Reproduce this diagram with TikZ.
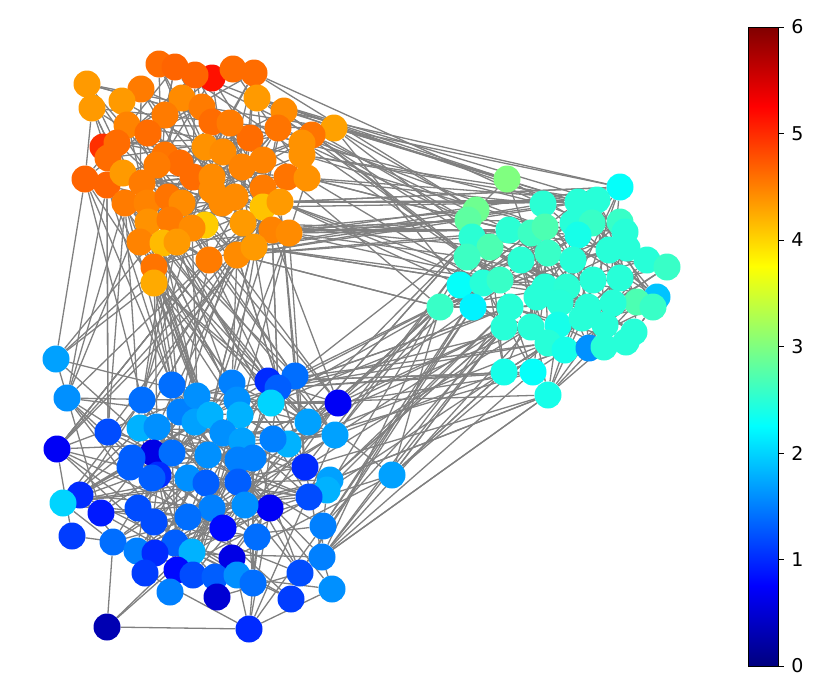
\documentclass[tikz,border=0pt]{standalone}
\usepackage{fontspec}
\setmainfont{DejaVu Sans}
\pgfdeclarelayer{bg}
\pgfsetlayers{bg,main}
\tikzset{
  dot/.style={circle,inner sep=0pt,minimum size=27pt,draw=none},
  link/.style={draw=black!50,line width=1.3pt},
  cbframe/.style={draw=black,line width=1pt},
  cbtick/.style={draw=black,line width=0.9pt},
  cblabel/.style={anchor=west,inner sep=0pt,font=\fontsize{19}{19}\selectfont}
}
\newcommand\jetcolor[2]{%
  \pgfmathsetmacro\cR{max(0,min(1,1.5-abs(2*(#2)/3-3)))}%
  \pgfmathsetmacro\cG{max(0,min(1,1.5-abs(2*(#2)/3-2)))}%
  \pgfmathsetmacro\cB{max(0,min(1,1.5-abs(2*(#2)/3-1)))}%
  \definecolor{#1}{rgb}{\cR,\cG,\cB}}
\begin{document}
\begin{tikzpicture}[x=1pt,y=-1pt]
\useasboundingbox (0,0) rectangle (830,699);
% orange cluster
\foreach \x/\y/\v [count=\n] in {87/84/4.4,92/108/4.4,159/64/5.0,175/67/5.1,212/78/6.2,195/75/5.1,233/69/5.0,254/73/5.0,141/89/4.8,122/101/4.4,257/98/4.4,182/98/4.6,202/107/4.8,165/115/4.8,127/125/4.7,284/111/4.6,334/128/4.3,312/135/4.9,278/128/4.9,250/138/5.0,212/122/5.0,230/123/4.8,148/133/5.0,103/147/5.8,117/143/5.0,302/143/4.5,205/147/4.5,223/152/4.6,165/155/4.9,180/163/5.0,108/158/5.0,302/155/4.5,85/179/5.1,107/185/5.1,123/173/4.4,142/183/4.8,157/165/4.8,193/177/5.0,212/177/4.6,242/167/4.7,263/160/4.7,287/177/4.9,307/178/4.5,263/188/4.8,125/203/4.8,147/203/4.7,168/197/4.9,182/203/4.6,212/190/4.6,222/203/4.6,235/197/4.6,263/207/4.1,280/202/4.4,148/222/4.5,170/220/4.8,205/225/4.05,243/223/4.4,192/228/4.6,272/230/4.7,289/233/4.6,140/242/4.7,163/243/4.15,177/242/4.4,209/260/4.8,237/255/4.6,254/247/4.4,154/267/4.9,154/283/4.25}{
  \pgfmathsetmacro\vv{\v>4.3 ? 4.3+(\v-4.3)*0.45 : \v}
  \jetcolor{nc}{\vv}
  \node[dot,fill=nc] (o\n) at (\x,\y) {};
}
% cyan cluster
\foreach \x/\y/\v [count=\n] in {507/179/3.0,620/187/2.1,476/210/2.9,468/220/2.8,543/204/2.5,578/202/2.3,597/200/2.3,573/223/2.3,592/223/2.4,620/222/2.4,625/232/2.3,472/237/2.5,490/247/2.7,509/230/2.5,531/233/2.6,545/227/2.7,578/235/2.2,467/257/2.6,521/260/2.5,548/253/2.4,609/250/2.3,647/260/2.3,667/267/2.4,627/248/2.3,573/260/2.3,460/285/2.1,483/283/2.3,500/280/2.4,545/287/2.3,567/287/2.5,593/280/2.3,620/278/2.3,657/297/1.9,637/302/2.7,653/307/2.4,440/307/2.4,473/307/2.0,510/307/2.3,537/297/2.3,560/303/2.3,588/307/2.3,613/303/2.3,504/327/2.3,531/327/2.3,558/325/2.2,582/318/2.3,605/325/2.3,634/332/2.3,626/342/2.3,548/343/2.3,565/350/2.2,589/348/1.6,604/347/2.3,504/372/2.2,533/372/2.1,548/395/2.2}{
  \pgfmathsetmacro\vv{and(\v>1.95,\v<2.45) ? \v+0.18 : \v}
  \jetcolor{nc}{\vv}
  \node[dot,fill=nc] (c\n) at (\x,\y) {};
}
% blue cluster
\foreach \x/\y/\v [count=\n] in {56/359/1.7,67/398/1.6,57/449/0.7,80/495/1.0,63/503/2.0,101/513/0.9,72/536/1.1,113/542/1.4,107/627/0.3,249/629/1.0,108/432/1.2,142/400/1.4,172/385/1.4,140/428/1.8,157/427/1.6,180/412/1.5,197/396/1.6,195/422/1.7,210/415/1.8,232/383/1.5,237/400/1.6,240/415/1.8,268/381/1.0,295/376/1.4,278/388/1.3,271/403/2.0,338/403/0.7,308/422/1.7,335/435/1.7,288/444/1.8,273/439/1.5,223/433/1.6,242/441/1.7,253/458/1.5,238/460/1.5,153/453/0.6,172/453/1.4,132/458/1.3,208/455/1.6,130/467/1.3,158/475/1.0,152/478/1.3,188/478/1.6,206/483/1.3,238/482/1.3,305/467/1.0,330/480/1.7,327/490/1.8,309/497/1.2,392/475/1.7,270/508/0.7,245/505/1.6,212/508/1.5,188/517/1.4,154/522/1.2,138/508/1.2,223/528/0.8,323/526/1.5,257/537/1.4,175/543/1.3,192/552/1.8,137/551/1.5,155/553/1.0,232/558/0.6,322/557/1.5,145/573/1.1,177/570/0.8,193/575/1.2,215/577/1.3,237/575/1.6,253/583/1.4,300/573/1.2,291/599/1.1,332/589/1.6,170/592/1.5,217/597/0.5}{
  \jetcolor{nc}{\v}
  \node[dot,fill=nc] (b\n) at (\x,\y) {};
}
\pgfmathsetseed{7}
\begin{pgfonlayer}{bg}
% within clusters
\foreach \k in {1,...,150}{
  \pgfmathtruncatemacro\i{random(1,68)}
  \pgfmathtruncatemacro\j{random(1,68)}
  \draw[link] (o\i) -- (o\j);
}
\foreach \k in {1,...,150}{
  \pgfmathtruncatemacro\i{random(1,56)}
  \pgfmathtruncatemacro\j{random(1,56)}
  \draw[link] (c\i) -- (c\j);
}
\foreach \k in {1,...,220}{
  \pgfmathtruncatemacro\i{random(1,76)}
  \pgfmathtruncatemacro\j{random(1,76)}
  \draw[link] (b\i) -- (b\j);
}
% orange - cyan
\foreach \k in {1,...,60}{
  \pgfmathtruncatemacro\i{{16,17,18,19,26,32,42,43,52,53,59,60,66,65,57,11,8}[random(0,16)]}
  \pgfmathtruncatemacro\j{{1,3,4,12,13,14,18,26,36,2,5,6,7,10,15,16,27,28}[random(0,17)]}
  \draw[link] (o\i) -- (c\j);
}
% orange - blue
\foreach \k in {1,...,80}{
  \pgfmathtruncatemacro\i{{61,62,63,64,65,66,67,68,54,55,56,57,58,45,46,59,60,33,34,52,53}[random(0,20)]}
  \pgfmathtruncatemacro\j{{1,2,12,13,17,20,23,24,25,26,27,11,14,15,16,19,21,22,28,29,46,47,3}[random(0,22)]}
  \draw[link] (o\i) -- (b\j);
}
% blue - cyan
\foreach \k in {1,...,60}{
  \pgfmathtruncatemacro\i{{24,27,28,29,46,47,48,49,50,58,65,72,74,23,25,26,30,31}[random(0,17)]}
  \pgfmathtruncatemacro\j{{36,37,26,27,43,54,55,56,38,44,50,18,12}[random(0,12)]}
  \draw[link] (b\i) -- (c\j);
}
% a few visible outer links
\draw[link] (b9) -- (b10);
\draw[link] (b9) -- (b8);
\draw[link] (b1) -- (o33);
\draw[link] (b50) -- (c54);
\draw[link] (b50) -- (c36);
\draw[link] (o17) -- (c2);
\draw[link] (o17) -- (c1);
\end{pgfonlayer}
% colorbar
\foreach \k in {0,...,638}{
  \pgfmathsetmacro\vv{(\k+0.5)*6/639}
  \jetcolor{cb}{\vv}
  \fill[cb] (748,{666-\k-1.1}) rectangle (778,{666-\k});
}
\node[coordinate] (cbtop) at (748,27) {};
\node[coordinate] (cbbot) at (778,666) {};
\draw[cbframe] (cbtop) rectangle (cbbot);
\foreach \t in {0,...,6}{
  \draw[cbtick] (778,{666-\t*106.5}) -- (784,{666-\t*106.5}) node[cblabel,xshift=7pt] {\t};
}
\end{tikzpicture}
\end{document}
